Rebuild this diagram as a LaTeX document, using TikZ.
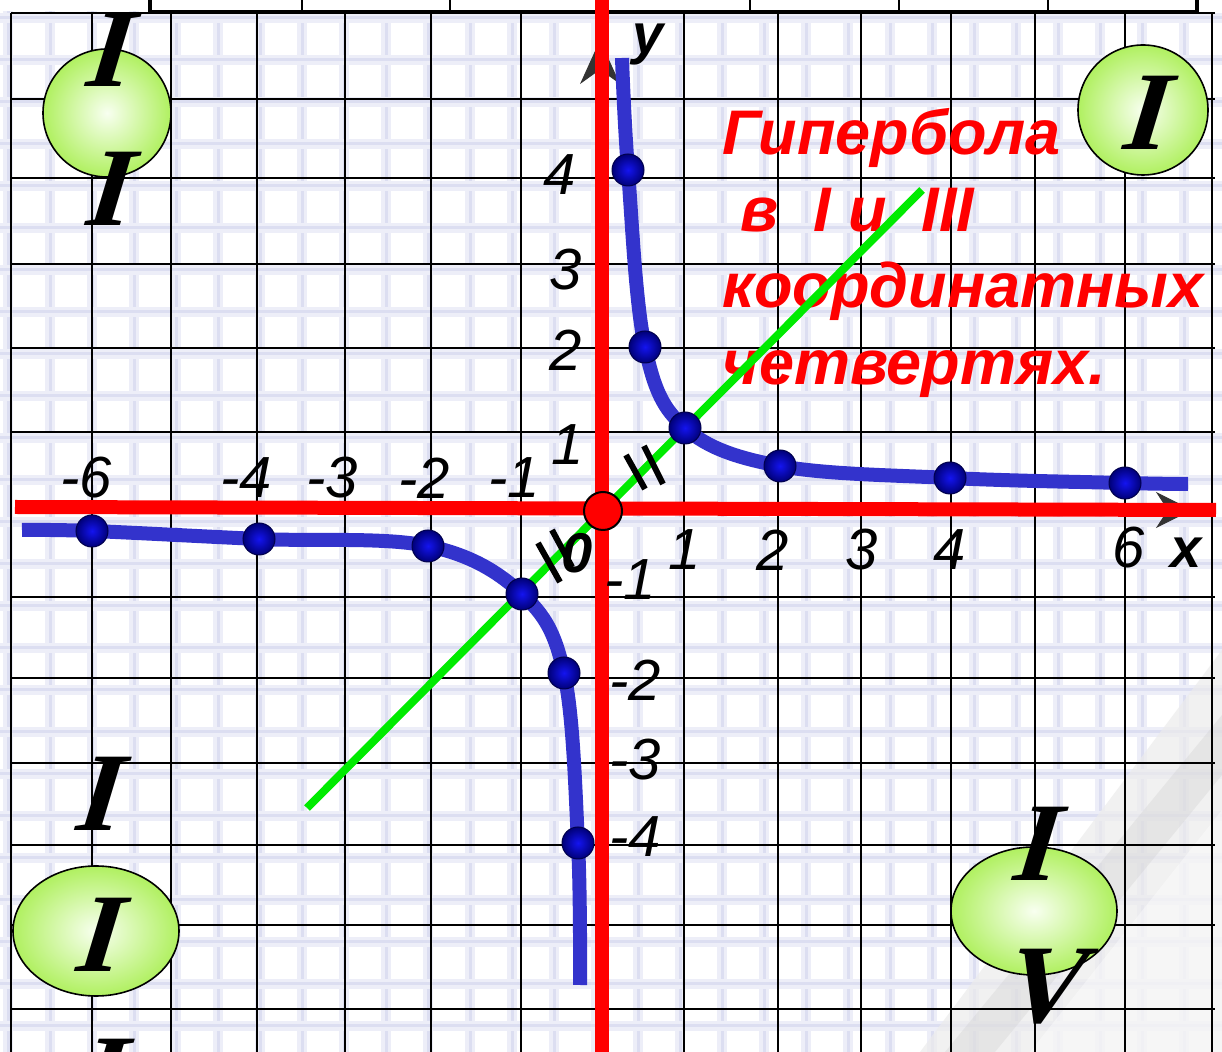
\documentclass[tikz,border=0pt]{standalone}
\usepackage{fontspec}
\setmainfont{Liberation Sans}
\newfontfamily\romanfont{Liberation Serif}[BoldFeatures={FakeSlant=0.3}]
\usetikzlibrary{arrows.meta,shapes.geometric}
\definecolor{curveblue}{RGB}{51,51,204}
\definecolor{linegreen}{RGB}{0,235,0}
\definecolor{balllight}{RGB}{248,255,240}
\definecolor{ballgreen}{RGB}{176,240,96}
\definecolor{dotlight}{RGB}{20,20,240}
\definecolor{dotdark}{RGB}{0,0,120}
\definecolor{paperblue}{RGB}{196,200,232}

\begin{document}
\begin{tikzpicture}[x=0.5pt,y=-0.5pt,>=Stealth]
\tikzstyle{lab}=[inner sep=0pt,font=\fontsize{29}{30}\selectfont\itshape]
\tikzstyle{axlab}=[inner sep=0pt,font=\fontsize{28}{30}\selectfont\bfseries\itshape]
\tikzstyle{roman}=[inner sep=0pt,font=\romanfont\fontsize{56}{60}\selectfont\bfseries]
\tikzstyle{ball}=[draw=black,line width=0.8pt,shading=radial,inner color=balllight,outer color=ballgreen]
\tikzstyle{dot}=[circle,draw=black!70!blue,line width=0.5pt,minimum size=16pt,inner sep=0pt,shading=radial,inner color=dotlight,outer color=dotdark]
\tikzstyle{hyper}=[curveblue,line width=7pt,line cap=butt]
\tikzstyle{axis}=[red,line width=7pt]
\tikzstyle{eqmark}=[black,line width=3pt]
\tikzstyle{title}=[anchor=base west,inner sep=0pt,text=red,font=\fontsize{31.5}{33}\selectfont\bfseries\itshape]
\clip (0,0) rectangle (1222,1052);
\fill[white] (0,0) rectangle (1222,1052);
\foreach \x in {8,50,...,1222} {
  \draw[paperblue!30,line width=5pt] (\x,0) -- (\x,1052);
  \draw[paperblue!60,line width=1.5pt] (\x,0) -- (\x,1052);
}
\foreach \y in {18,60,...,1052} {
  \draw[paperblue!30,line width=5pt] (0,\y) -- (1222,\y);
  \draw[paperblue!60,line width=1.5pt] (0,\y) -- (1222,\y);
}
\fill[gray!15,opacity=0.7] (920,1052) -- (1222,650) -- (1222,1052) -- cycle;
\fill[gray!40,opacity=0.3] (945,1052) -- (1222,715) -- (1222,775) -- (995,1052) -- cycle;
\fill[white,opacity=0.4] (1030,1052) -- (1222,810) -- (1222,1052) -- cycle;
\foreach \x in {11,92,171,257,345,431,521,684,778,861,951,1035,1125,1212}
  \draw[line width=1pt] (\x,13) -- (\x,1052);
\foreach \y in {13,99,178,264,348,432,597,678,763,845,925,1009}
  \draw[line width=1pt] (11,\y) -- (1215,\y);
\fill[white] (0,-5) rectangle (1222,11);
\draw[line width=2pt,fill=white] (150,-5) rectangle (1197,12);
\foreach \x in {302,450,750,899,1048}
  \draw[line width=1pt] (\x,-5) -- (\x,12);
\node[ball,circle,minimum size=64pt] (q2) at (107,113) {};
\node[ball,circle,minimum size=65pt] (q1) at (1143,110) {};
\node[ball,ellipse,minimum width=83pt,minimum height=65pt] (q3) at (96,931) {};
\node[ball,ellipse,minimum width=83pt,minimum height=64pt] (q4) at (1034,911) {};
\node[roman] (q2a) at (102,50) {I};
\node[roman] (q2b) at (102,189) {I};
\node[roman] (q1a) at (1139,113) {I};
\node[roman] (q3a) at (92,794) {I};
\node[roman] (q3b) at (92,935) {I};
\node[roman] (q3c) at (95,1076) {I};
\node[roman] (q4a) at (1029,844) {I};
\node[roman] (q4b) at (1038,987) {V};
\node[title] (t1) at (722,155) {Гипербола};
\node[title] (t2) at (740,232) {в~~I и~~III};
\node[title] (t3) at (722,308) {координатных};
\node[title] (t4) at (722,385) {четвертях.};
\draw[black!80,line width=0.5pt,-{Stealth[length=18pt,width=18pt]}] (15,510) -- (1192,510);
\draw[black!80,line width=0.5pt,-{Stealth[length=22pt,width=20pt]}] (601,1052) -- (600,40);
\draw[axis] (15,507) -- (1216,510);
\draw[axis] (602,-5) -- (602,1060);
\coordinate (g1) at (307,808);
\coordinate (g2) at (922,190);
\draw[linegreen,line width=4pt] (g1) -- (g2);
\coordinate (a0) at (622,58);
\coordinate (a1) at (628,170);
\coordinate (a2) at (645,347);
\coordinate (a3) at (685,428);
\coordinate (a4) at (780,466);
\coordinate (a5) at (950,478);
\coordinate (a6) at (1125,483);
\coordinate (a7) at (1188,484);
\coordinate (b0) at (22,530);
\coordinate (b1) at (92,531);
\coordinate (b2) at (259,539);
\coordinate (b3) at (428,546);
\coordinate (b4) at (522,594);
\coordinate (b5) at (564,673);
\coordinate (b6) at (578,843);
\coordinate (b7) at (580,985);
\draw[hyper] plot[smooth,tension=0.6] coordinates {(a0) (a1) (a2) (a3) (a4) (a5) (a6) (a7)};
\draw[hyper] plot[smooth,tension=0.6] coordinates {(b0) (b1) (b2) (b3) (b4) (b5) (b6) (b7)};
\foreach \p in {a1,a2,a3,a4,a5,a6,b1,b2,b3,b4,b5,b6}
  \node[dot] (d\p) at (\p) {};
\draw[eqmark] (626,455) -- (645,489);
\draw[eqmark] (644,446) -- (663,484);
\draw[eqmark] (538,543) -- (560,582);
\draw[eqmark] (552,530) -- (572,567);
\node[circle,fill=red,draw=black,line width=1pt,minimum size=19pt,inner sep=0pt] (O) at (603,511) {};
\node[axlab] (ylab) at (648,45) {y};
\node[axlab] (xlab) at (1186,553) {x};
\node[axlab] (zero) at (577,553) {0};
\node[lab] (xm6) at (86,478) {-6};
\node[lab] (xm4) at (246,478) {-4};
\node[lab] (xm3) at (332,478) {-3};
\node[lab] (xm2) at (424,478) {-2};
\node[lab] (xm1) at (514,478) {-1};
\node[lab] (xp1) at (685,550) {1};
\node[lab] (xp2) at (773,550) {2};
\node[lab] (xp3) at (862,550) {3};
\node[lab] (xp4) at (950,550) {4};
\node[lab] (xp6) at (1129,548) {6};
\node[lab] (yp4) at (560,175) {4};
\node[lab] (yp3) at (566,270) {3};
\node[lab] (yp2) at (566,350) {2};
\node[lab] (yp1) at (568,445) {1};
\node[lab] (ym1) at (630,580) {-1};
\node[lab] (ym2) at (635,680) {-2};
\node[lab] (ym3) at (635,760) {-3};
\node[lab] (ym4) at (635,837) {-4};
\end{tikzpicture}
\end{document}
